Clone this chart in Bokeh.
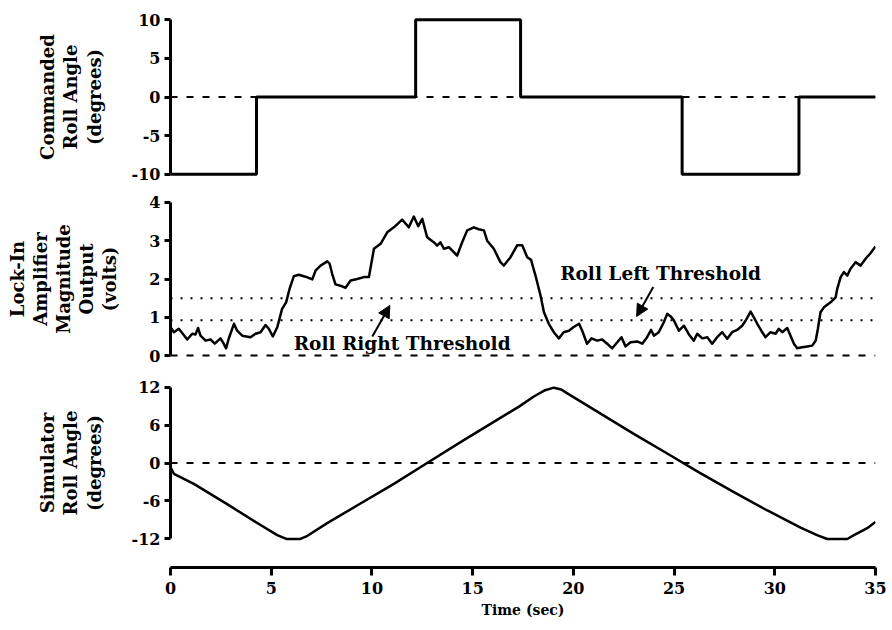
from bokeh.plotting import figure
from bokeh.layouts import column
from bokeh.models import Range1d, Span, Label, Arrow, NormalHead, FixedTicker
from bokeh.embed import file_html
from bokeh.resources import INLINE

FONT = "DejaVu Serif"

# ---------------- data ----------------
# Commanded roll angle (step changes)
cmd_time = [0, 4.27, 12.17, 17.38, 25.4, 31.2, 35]
cmd_angle = [-10, 0, 10, 0, -10, 0, 0]

# Lock-in amplifier magnitude output (volts)
lia_time = [0.00, 0.17, 0.41, 0.58, 0.83, 1.08, 1.24, 1.37, 1.49, 1.74, 1.99, 2.20, 2.48, 2.60,
            2.76, 2.89, 3.15, 3.31, 3.56, 3.97, 4.22, 4.47, 4.72, 4.88, 5.08, 5.30, 5.54, 5.74,
            5.91, 6.12, 6.37, 6.70, 7.04, 7.20, 7.45, 7.78, 7.90, 8.03, 8.19, 8.52, 8.69, 8.94,
            9.27, 9.60, 9.85, 10.10, 10.43, 10.76, 11.09, 11.50, 11.83, 12.08, 12.30, 12.50,
            12.74, 13.07, 13.24, 13.40, 13.57, 13.82, 14.23, 14.48, 14.73, 15.06, 15.30, 15.56,
            15.72, 16.05, 16.38, 16.55, 16.88, 17.21, 17.46, 17.71, 17.90, 18.12, 18.37, 18.54,
            18.78, 19.03, 19.28, 19.52, 19.78, 20.00, 20.28, 20.44, 20.68, 20.90, 21.18, 21.43,
            21.68, 21.93, 22.18, 22.39, 22.59, 22.84, 23.17, 23.42, 23.66, 23.86, 24.00, 24.24,
            24.49, 24.66, 24.82, 24.99, 25.24, 25.49, 25.73, 25.98, 26.15, 26.40, 26.65, 26.89,
            27.14, 27.39, 27.64, 27.88, 28.13, 28.38, 28.55, 28.80, 28.96, 29.13, 29.33, 29.54,
            29.79, 30.04, 30.20, 30.37, 30.62, 30.78, 30.95, 31.11, 31.36, 31.61, 31.86, 32.03,
            32.14, 32.27, 32.44, 32.77, 33.02, 33.10, 33.27, 33.43, 33.60, 33.76, 34.01, 34.26,
            34.51, 34.76, 35.00]
lia_volts = [0.74, 0.61, 0.70, 0.59, 0.42, 0.57, 0.55, 0.72, 0.52, 0.39, 0.42, 0.31, 0.45, 0.35,
             0.19, 0.44, 0.83, 0.65, 0.52, 0.48, 0.57, 0.61, 0.80, 0.70, 0.50, 0.74, 1.22, 1.39,
             1.74, 2.07, 2.11, 2.06, 1.99, 2.22, 2.35, 2.46, 2.40, 2.13, 1.86, 1.81, 1.77, 1.96,
             2.00, 2.05, 2.05, 2.79, 2.92, 3.22, 3.35, 3.55, 3.35, 3.63, 3.38, 3.57,
             3.09, 2.96, 2.87, 2.96, 2.79, 2.83, 2.61, 2.96, 3.27, 3.35, 3.30, 3.27,
             3.00, 2.79, 2.44, 2.35, 2.57, 2.88, 2.88, 2.57, 2.50, 2.09, 1.57, 1.13,
             0.83, 0.61, 0.45, 0.61, 0.65, 0.74, 0.83, 0.65, 0.31, 0.45, 0.39, 0.42,
             0.31, 0.19, 0.35, 0.48, 0.24, 0.35, 0.37, 0.31, 0.48, 0.67, 0.52, 0.61,
             0.87, 1.09, 1.03, 0.92, 0.65, 0.78, 0.56, 0.39, 0.57, 0.45, 0.48, 0.31,
             0.48, 0.61, 0.44, 0.61, 0.67, 0.78, 0.91, 1.15, 1.00, 0.83, 0.65, 0.48,
             0.61, 0.57, 0.70, 0.61, 0.72, 0.52, 0.31, 0.19, 0.22, 0.24, 0.26, 0.39,
             0.70, 1.13, 1.26, 1.39, 1.52, 1.74, 2.05, 2.18, 2.09, 2.27, 2.44, 2.35,
             2.53, 2.68, 2.85]

roll_right_threshold = 1.5
roll_left_threshold = 0.92

# Simulator roll angle (degrees)
sim_time = [0.00, 0.17, 1.16, 2.81, 4.47, 5.30, 5.75, 6.45, 6.80, 7.78, 9.43, 11.09, 12.74,
            14.40, 16.05, 17.30, 18.04, 18.60, 19.03, 19.40, 19.70, 21.35, 23.00, 24.66,
            26.30, 27.97, 29.63, 31.28, 32.10, 32.60, 33.60, 33.93, 34.59, 35.00]
sim_angle = [-0.7, -1.7, -3.3, -6.5, -9.8, -11.4, -12.0, -12.0, -11.5, -9.5, -6.4, -3.3, 0.0,
             3.3, 6.5, 8.9, 10.5, 11.5, 11.9, 11.6, 11.0, 7.8, 4.6, 1.5,
             -1.6, -4.6, -7.5, -10.2, -11.4, -12.0, -12.0, -11.4, -10.3, -9.3]

cmd_ticks = [-10, -5, 0, 5, 10]
lia_ticks = [0, 1, 2, 3, 4]
sim_ticks = [-12, -6, 0, 6, 12]
time_ticks = [0, 5, 10, 15, 20, 25, 30, 35]

# ---------------- layout ----------------
x_range = Range1d(0, 35)
LEFT = 170
RIGHT = 12
FW = 705


def panel(yr, bounds, ticks, fh, top, bottom, label, standoff):
    p = figure(frame_width=FW, frame_height=fh, x_range=x_range, y_range=Range1d(*yr),
               output_backend="svg", toolbar_location=None, x_axis_location=None,
               min_border_left=LEFT, min_border_right=RIGHT, min_border_top=top,
               min_border_bottom=bottom)
    p.outline_line_color = None
    p.grid.visible = False
    ax = p.yaxis[0]
    ax.bounds = bounds
    ax.ticker = FixedTicker(ticks=ticks)
    ax.major_label_overrides = {t: str(t) for t in ticks}
    ax.axis_line_width = 3
    ax.axis_line_color = "black"
    ax.major_tick_line_width = 3
    ax.major_tick_line_color = "black"
    ax.major_tick_out = 6
    ax.major_tick_in = 0
    ax.minor_tick_out = 0
    ax.minor_tick_in = 0
    ax.major_label_standoff = 4
    ax.major_label_text_font = FONT
    ax.major_label_text_font_style = "bold"
    ax.major_label_text_font_size = "16px"
    ax.major_label_text_color = "black"
    ax.axis_label = label
    ax.axis_label_text_font = FONT
    ax.axis_label_text_font_style = "bold"
    ax.axis_label_text_font_size = "18px"
    ax.axis_label_text_color = "black"
    ax.axis_label_text_line_height = 1.1
    ax.axis_label_standoff = standoff
    p.add_layout(Span(location=0, dimension="width", line_color="black", line_width=2,
                      line_dash="7 9", level="underlay"))
    return p


p1 = panel((-10.3, 10.3), (-10, 10), cmd_ticks, 159, 17, 12,
           "Commanded\nRoll Angle\n(degrees)", 24)
p1.step(cmd_time, cmd_angle, mode="after", line_color="black", line_width=3)

p2 = panel((-0.05, 4.05), (0, 4), lia_ticks, 157, 12, 13,
           "Lock-In\nAmplifier\nMagnitude\nOutput\n(volts)", 26)
for thr in (roll_right_threshold, roll_left_threshold):
    p2.add_layout(Span(location=thr, dimension="width", line_color="black", line_width=2,
                       line_dash="2 8", level="underlay"))
p2.line(lia_time, lia_volts, line_color="black", line_width=2.5, line_join="round")
p2.add_layout(Label(x=11.5, y=0.32, text="Roll Right Threshold", text_align="center",
                    text_baseline="middle", text_font=FONT, text_font_style="bold",
                    text_font_size="18.5px", text_color="black"))
p2.add_layout(Arrow(x_start=10.02, y_start=0.5, x_end=10.89, y_end=1.31, line_width=2,
                    end=NormalHead(size=12, fill_color="black", line_color="black")))
p2.add_layout(Label(x=24.33, y=2.15, text="Roll Left Threshold", text_align="center",
                    text_baseline="middle", text_font=FONT, text_font_style="bold",
                    text_font_size="18.5px", text_color="black"))
p2.add_layout(Arrow(x_start=23.97, y_start=1.79, x_end=23.14, y_end=1.02, line_width=2,
                    end=NormalHead(size=12, fill_color="black", line_color="black")))

p3 = panel((-12.4, 12.4), (-12, 12), sim_ticks, 157, 14, 10,
           "Simulator\nRoll Angle\n(degrees)", 24)
p3.line(sim_time, sim_angle, line_color="black", line_width=2.5, line_join="round")

p4 = figure(frame_width=FW, frame_height=2, x_range=x_range, y_range=Range1d(0, 1),
            output_backend="svg", toolbar_location=None, y_axis_location=None,
            min_border_left=LEFT, min_border_right=RIGHT, min_border_top=14, min_border_bottom=0)
p4.outline_line_color = None
p4.grid.visible = False
xa = p4.xaxis[0]
xa.ticker = FixedTicker(ticks=time_ticks)
xa.axis_line_width = 3
xa.axis_line_color = "black"
xa.major_tick_line_width = 3
xa.major_tick_line_color = "black"
xa.major_tick_out = 8
xa.major_tick_in = 0
xa.minor_tick_out = 0
xa.minor_tick_in = 0
xa.major_label_standoff = 6
xa.major_label_text_font = FONT
xa.major_label_text_font_style = "bold"
xa.major_label_text_font_size = "16px"
xa.major_label_text_color = "black"
xa.axis_label = "Time (sec)"
xa.axis_label_text_font = FONT
xa.axis_label_text_font_style = "bold"
xa.axis_label_text_font_size = "14px"
xa.axis_label_text_color = "black"
xa.axis_label_standoff = 5

layout = column(p1, p2, p3, p4, spacing=0)
open("out.html", "w").write(file_html(layout, INLINE))
